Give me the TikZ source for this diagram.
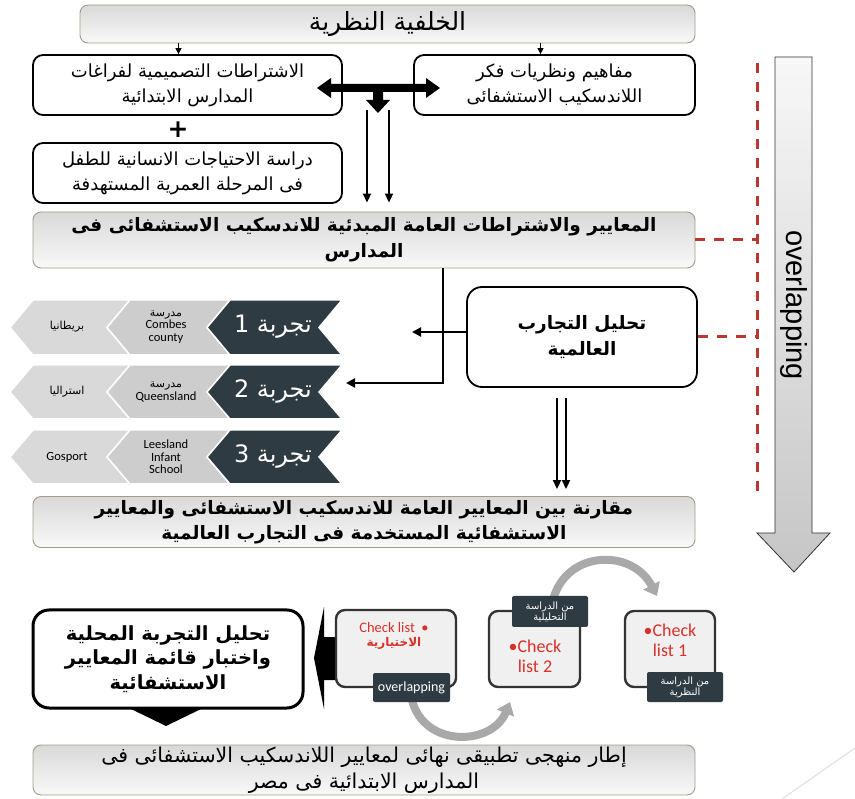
\documentclass[tikz,border=0pt]{standalone}
\usepackage{fontspec}
\setmainfont{DejaVu Sans}
\newfontfamily\ar[Script=Arabic]{DejaVu Sans}
\newfontfamily\lat{Liberation Sans}
\newfontfamily\carl{Carlito}
\TeXXeTstate=1
\usetikzlibrary{calc,arrows.meta}
\newcommand\RL[1]{\beginR #1\endR}
\newcommand\fs[1]{\fontsize{#1}{#1}\selectfont}

\definecolor{slate}{HTML}{2E3B42}
\definecolor{chevmid}{HTML}{CDCDCD}
\definecolor{chevout}{HTML}{D9D9D9}
\definecolor{dashred}{HTML}{B8372F}
\definecolor{chkred}{HTML}{D8302A}
\definecolor{boxline}{HTML}{A09C88}
\definecolor{arcgray}{HTML}{A9A9A9}

\tikzset{
  graybox/.style={draw=boxline, line width=0.9pt, rounded corners=8pt,
    top color=gray!30, bottom color=gray!5, align=center, inner sep=0pt},
  whitebox/.style={draw=black, line width=1.8pt, rounded corners=10pt,
    fill=white, align=center, inner sep=0pt},
  chkbox/.style={draw=black!80, line width=2.4pt, rounded corners=9pt,
    fill=gray!12, align=center, inner sep=0pt},
  tag/.style={fill=slate, rounded corners=2pt, text=white, align=center,
    inner sep=0pt},
  thinarrow/.style={line width=2pt, -{Triangle[length=9pt,width=8pt]}},
  redlink/.style={dashred, line width=3pt, dash pattern=on 10pt off 9pt},
  arc/.style={arcgray, line width=8pt, -{Triangle[length=12pt,width=18pt]}},
  chevron/.style={draw=white, line width=1.5pt},
  chevtxt/.style={align=center, inner sep=0pt, font=\carl\fs{12.5}},
}

% chevron: #1 left tip x, #2 right x, #3 top y, #4 bottom y, #5 colour
\newcommand\chev[5]{%
  \fill[#5] (#1,{(#3+#4)/2}) -- (#1+23,#3) -- (#2,#3) -- (#2-23,{(#3+#4)/2})
    -- (#2,#4) -- (#1+23,#4) -- cycle;
  \draw[chevron] (#1,{(#3+#4)/2}) -- (#1+23,#3) -- (#2,#3) -- (#2-23,{(#3+#4)/2})
    -- (#2,#4) -- (#1+23,#4) -- cycle;}

\begin{document}
\begin{tikzpicture}[x=1pt,y=-1pt]
\useasboundingbox (0,0) rectangle (855,799);
\fill[white] (0,0) rectangle (855,799);

% ---------------- upper part ----------------
\node[graybox, minimum width=615pt, minimum height=38pt, font=\ar\fs{25}] (top) at (387.5,24)
  {\RL{الخلفية النظرية}};

\node[whitebox, minimum width=309pt, minimum height=60pt, font=\ar\fs{18}] (lbox) at (187.5,85)
  {\RL{الاشتراطات التصميمية لفراغات}\\[6pt]\RL{المدارس الابتدائية}};
\node[whitebox, minimum width=281pt, minimum height=60pt, font=\ar\fs{18}] (rbox) at (554.5,85)
  {\RL{مفاهيم ونظريات فكر}\\[6pt]\RL{اللاندسكيب الاستشفائى}};

\draw[line width=1.2pt, -{Triangle[length=6pt,width=6pt]}]
  ($(top.south -| lbox.north)+(-9,0)$) -- ($(lbox.north)+(-9,0)$);
\draw[line width=1.2pt, -{Triangle[length=6pt,width=6pt]}]
  ($(top.south -| rbox.north)+(-14,0)$) -- ($(rbox.north)+(-14,0)$);

\node[font=\bfseries\fs{25}, inner sep=0pt] (plus) at (178,130) {+};

\node[whitebox, minimum width=309pt, minimum height=60pt, font=\ar\fs{18}] (nbox) at (187.5,173)
  {\RL{دراسة الاحتياجات الانسانية للطفل}\\[6pt]\RL{فى المرحلة العمرية المستهدفة}};

% thick two-way arrow between the two upper boxes, with a drop in the middle
\fill[black] (317,88) -- (331,78) -- (331,84) -- (426,84) -- (426,78) -- (440,88)
  -- (426,98) -- (426,92) -- (383,92) -- (383,100) -- (390,100) -- (378,113)
  -- (366,100) -- (373,100) -- (373,92) -- (331,92) -- (331,98) -- cycle;

\node[graybox, minimum width=662pt, minimum height=56pt, font=\ar\bfseries\fs{18.5}] (mid) at (364,240)
  {\RL{المعايير والاشتراطات العامة المبدئية للاندسكيب الاستشفائى فى}\\[6pt]\RL{المدارس}};

\coordinate (d1) at (367,110);
\coordinate (d2) at (389,110);
\draw[thinarrow] (d1) -- ($(d1 |- mid.north)+(0,-9)$);
\draw[thinarrow] (d2) -- ($(d2 |- mid.north)+(0,-9)$);

% ---------------- overlapping arrow ----------------
\shade[top color=gray!6, bottom color=gray!45, draw=gray!40!black, line width=0.8pt]
  (775,57) -- (812,57) -- (812,533) -- (830,533) -- (794,572) -- (757,533)
  -- (775,533) -- cycle;
\node[rotate=-90, font=\lat\fs{29}, inner sep=0pt] (ovl) at (794,305) {overlapping};

\coordinate (rtop) at (757,63);
\coordinate (rbot) at (757,493);
\draw[redlink] (rtop) -- (rbot);

% ---------------- world experiences ----------------
\node[whitebox, minimum width=230pt, minimum height=100pt, rounded corners=15pt,
  font=\ar\bfseries\fs{18.5}] (tahlil) at (582,337) {\RL{تحليل التجارب}\\[6pt]\RL{العالمية}};

\draw[redlink] (mid.east) -- (mid.east -| rtop);
\draw[redlink] (tahlil.east) -- (tahlil.east -| rtop);

% chevrons, three rows
\chev{10}{130}{300}{355}{chevout}
\chev{107}{230}{300}{355}{chevmid}
\chev{207}{342}{300}{355}{slate}
\chev{10}{130}{365}{419}{chevout}
\chev{107}{230}{365}{419}{chevmid}
\chev{207}{342}{365}{419}{slate}
\chev{10}{130}{430}{484}{chevout}
\chev{107}{230}{430}{484}{chevmid}
\chev{207}{342}{430}{484}{slate}

\node[text=white, inner sep=0pt, font=\ar\fs{24}] (e1) at (273,327) {\RL{تجربة 1}};
\node[text=white, inner sep=0pt, font=\ar\fs{24}] (e2) at (273,392) {\RL{تجربة 2}};
\node[text=white, inner sep=0pt, font=\ar\fs{24}] (e3) at (273,457) {\RL{تجربة 3}};

\node[chevtxt] (s1) at (166,327) {{\ar\fs{11}\RL{مدرسة}}\\Combes\\county};
\node[chevtxt] (s2) at (166,392) {{\ar\fs{11}\RL{مدرسة}}\\Queensland};
\node[chevtxt] (s3) at (166,457) {Leesland\\Infant\\School};

\node[chevtxt, font=\ar\fs{11}] (c1) at (67,327) {\RL{بريطانيا}};
\node[chevtxt, font=\ar\fs{11}] (c2) at (67,392) {\RL{استراليا}};
\node[chevtxt] (c3) at (67,457) {Gosport};

\coordinate (vx) at (443,0);
\coordinate (r1in) at (412,332);
\coordinate (r2in) at (346,383);
\draw[line width=2.2pt, -{Triangle[length=9pt,width=9pt]}] (mid.south -| vx) |- (r2in);
\draw[line width=2.2pt, -{Triangle[length=9pt,width=9pt]}] (tahlil.west |- r1in) -- (r1in);

\node[graybox, minimum width=662pt, minimum height=51pt, font=\ar\bfseries\fs{18.5}] (comp) at (364,522)
  {\RL{مقارنة بين المعايير العامة للاندسكيب الاستشفائى والمعايير}\\[5pt]\RL{الاستشفائية المستخدمة فى التجارب العالمية}};

\coordinate (t1) at (557,398);
\coordinate (t2) at (566,398);
\draw[thinarrow] (t1) -- ($(t1 |- comp.north)+(0,-7)$);
\draw[thinarrow] (t2) -- ($(t2 |- comp.north)+(0,-7)$);

% ---------------- check lists ----------------
\fill[black] (314,658) -- (324,607) -- (324,637) -- (340,637) -- (340,680)
  -- (324,680) -- (324,709) -- cycle;

\fill[black] (148,700) -- (186,700) -- (186,709) -- (201,709) -- (166,726)
  -- (131,709) -- (148,709) -- cycle;
\node[whitebox, line width=3pt, rounded corners=16pt, minimum width=270pt,
  minimum height=98pt, font=\ar\bfseries\fs{19.5}] (local) at (168,659)
  {\RL{تحليل التجربة المحلية}\\[4pt]\RL{واختبار قائمة المعايير}\\[4pt]\RL{الاستشفائية}};

\coordinate (u1) at (553,600);
\coordinate (u2) at (657,596);
\draw[arc] (u1) .. controls (566,550) and (632,548) .. (u2);

\coordinate (l1) at (412,700);
\coordinate (l2) at (510,702);
\draw[arc] (l1) .. controls (424,748) and (492,746) .. (l2);

\node[chkbox, minimum width=120pt, minimum height=77pt] (chkA) at (396,648.5) {};
\node[text=chkred, align=center, inner sep=0pt] (chkAt) at (394,636)
  {{\carl\fs{14.5}Check list\ \ •}\\[2pt]{\ar\bfseries\fs{12}\RL{الاختيارية}}};
\node[chkbox, minimum width=91pt, minimum height=76pt] (chkB) at (534.5,649) {};
\node[text=chkred, align=center, inner sep=0pt, font=\carl\fs{18}] (chkBt) at (535,656)
  {•Check\\[2pt]list 2};
\node[chkbox, minimum width=90pt, minimum height=76pt] (chkC) at (670,649) {};
\node[text=chkred, align=center, inner sep=0pt, font=\carl\fs{18}] (chkCt) at (670,640)
  {•Check\\[2pt]list 1};

\node[tag, minimum width=77pt, minimum height=29pt, font=\carl\fs{14}] (tagA) at (411.5,687.5)
  {overlapping};
\node[tag, minimum width=76pt, minimum height=31pt, font=\ar\fs{10}] (tagB) at (550,611.5)
  {\RL{من الدراسة}\\\RL{التحليلية}};
\node[tag, minimum width=76pt, minimum height=30pt, font=\ar\fs{10}] (tagC) at (685,687)
  {\RL{من الدراسة}\\\RL{النظرية}};

\node[graybox, minimum width=662pt, minimum height=50pt, font=\ar\fs{20.5}] (final) at (364,770)
  {\RL{إطار منهجى تطبيقى نهائى لمعايير اللاندسكيب الاستشفائى فى}\\[4pt]\RL{المدارس الابتدائية فى مصر}};

% faint slide corner line
\coordinate (g1) at (855,748);
\coordinate (g2) at (782,799);
\draw[gray!25, line width=1pt] (g1) -- (g2);
\end{tikzpicture}
\end{document}
